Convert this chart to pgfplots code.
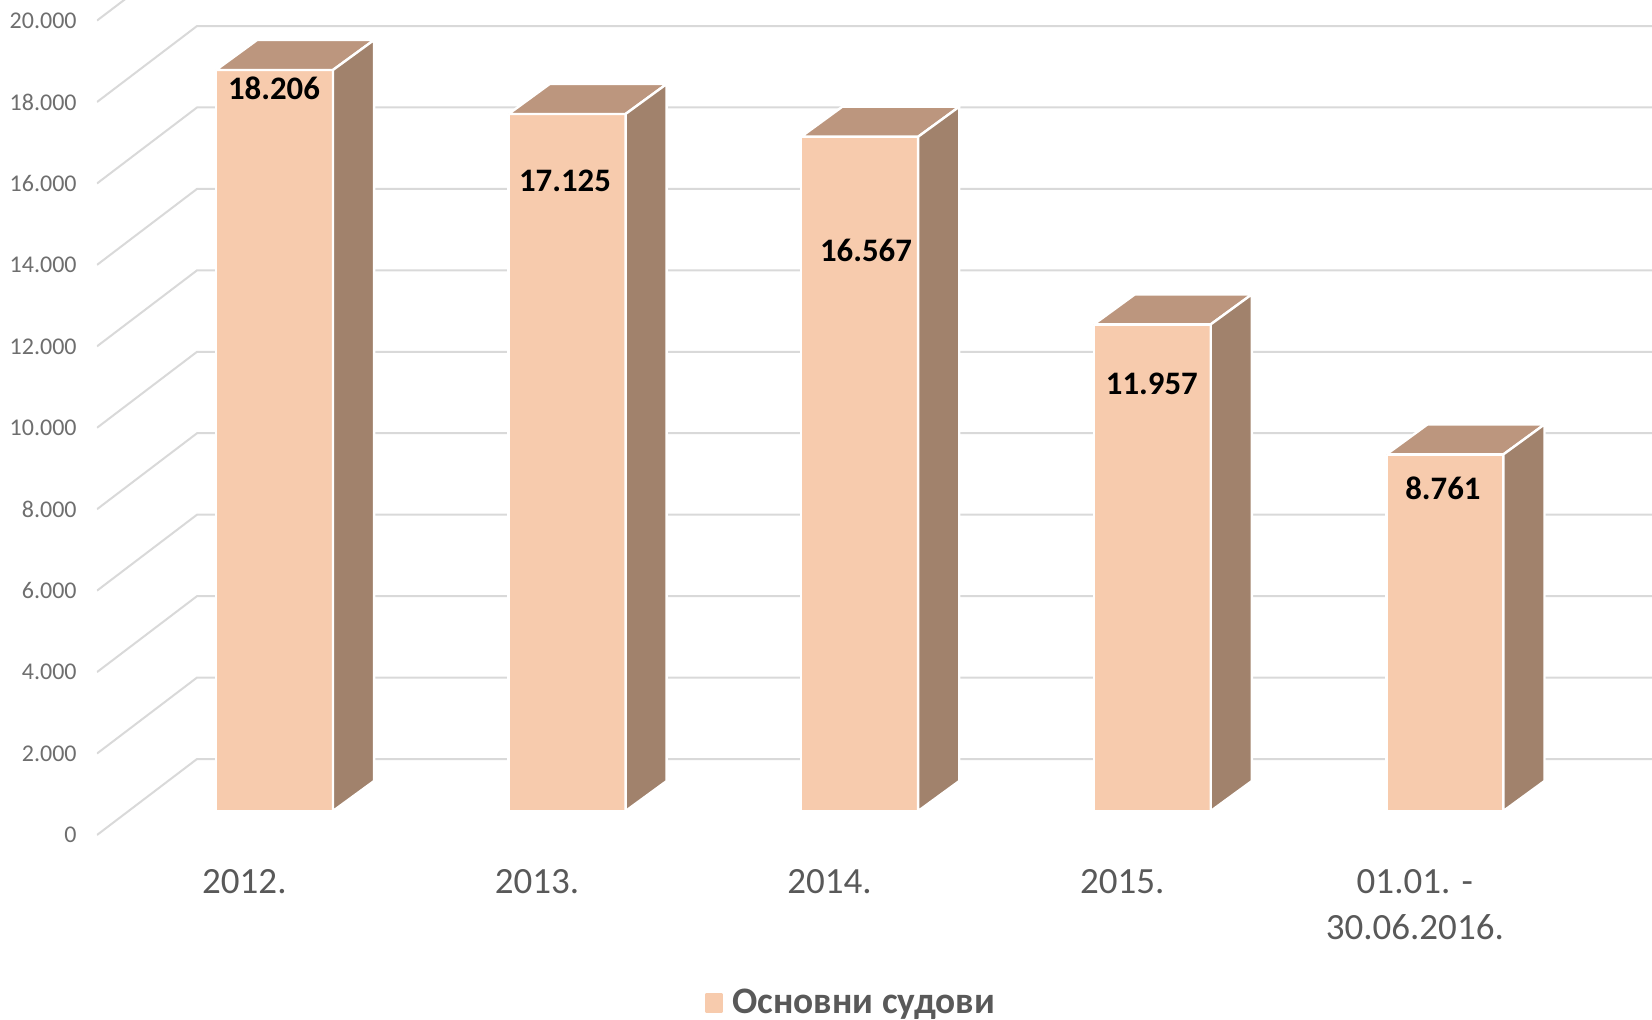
\documentclass[border=0pt]{standalone}
\usepackage{pgfplots}
\pgfplotsset{compat=1.18}
\usepackage{fontspec}
\setmainfont{Carlito}
\definecolor{front}{HTML}{F7CBAD}
\definecolor{side}{HTML}{A1826C}
\definecolor{topf}{HTML}{BC967E}
\definecolor{gridc}{HTML}{D9D9D9}
\definecolor{ticktxt}{HTML}{6E6E6E}
\definecolor{cattxt}{HTML}{595959}
\begin{document}
\begin{tikzpicture}
\path[use as bounding box] (0pt,0pt) rectangle (826pt,510pt);
% back wall, side wall and the value scale
\begin{axis}[
  at={(48.5pt,0pt)}, anchor=south west, scale only axis,
  width=777.5pt, height=510pt,
  xmin=97, xmax=1652, ymin=-4543, ymax=20506,
  axis line style={draw=none}, xtick=\empty, major tick length=0pt,
  ytick={0,2000,4000,6000,8000,10000,12000,14000,16000,18000,20000},
  scaled y ticks=false,
  yticklabel style={/pgf/number format/assume math mode=true,
     /pgf/number format/fixed, /pgf/number format/1000 sep={.},
     /pgf/number format/min exponent for 1000 sep=0,
     anchor=east, inner sep=0pt, xshift=-10pt, text=ticktxt,
     font=\fontsize{12}{14}\selectfont},
  clip=true,
]
\pgfplotsinvokeforeach{0,2000,4000,6000,8000,10000,12000,14000,16000,18000,20000}{
  \addplot[gridc, line width=1pt, forget plot] coordinates {(97,#1) (197,#1+1866) (1652,#1+1866)};
}
\end{axis}
% bars
\begin{axis}[
  at={(0pt,104.5pt)}, anchor=south west, scale only axis,
  width=826pt, height=405.5pt,
  xmin=-0.9364, xmax=4.7095, ymin=0, ymax=19926,
  axis line style={draw=none}, ytick=\empty, major tick length=0pt,
  xtick={0,1,2,3,4},
  xticklabels={2012.,2013.,2014.,2015.,{01.01. -\\30.06.2016.}},
  xticklabel style={anchor=north, align=center, inner sep=0pt, xshift=-14.8pt, yshift=-29pt,
     text=cattxt, font=\fontsize{18.5}{23}\selectfont},
  clip=false,
  legend style={at={(0.5157,-0.2369)}, anchor=center, draw=none, fill=none,
     font=\fontsize{18.7}{20}\bfseries\selectfont, text=cattxt, inner sep=0pt},
  legend cell align=left,
  legend image code/.code={\path (9pt,0pt); \fill[front] (-1.6pt,-4.25pt) rectangle (6.4pt,4.25pt);},
]
\addplot[ybar, bar width=59pt, bar shift=0.5pt, fill=front, draw=white, line width=1.2pt]
  coordinates {(0,18206) (1,17125) (2,16567) (3,11957) (4,8761)};
\addlegendentry{Основни судови}
\pgfplotsset{every axis plot/.append style={forget plot, draw=white, line width=1.2pt, line join=round}}
% top faces
\addplot[fill=topf] coordinates {(-0.1982,18206) (0.2015,18206) (0.342,18943) (-0.0577,18943) (-0.1982,18206)};
\addplot[fill=topf] coordinates {(0.8018,17125) (1.2015,17125) (1.342,17862) (0.9423,17862) (0.8018,17125)};
\addplot[fill=topf] coordinates {(1.8018,16567) (2.2015,16567) (2.342,17304) (1.9423,17304) (1.8018,16567)};
\addplot[fill=topf] coordinates {(2.8018,11957) (3.2015,11957) (3.342,12694) (2.9423,12694) (2.8018,11957)};
\addplot[fill=topf] coordinates {(3.8018,8761) (4.2015,8761) (4.342,9498) (3.9423,9498) (3.8018,8761)};
% side faces
\addplot[fill=side] coordinates {(0.2015,0) (0.342,737) (0.342,18943) (0.2015,18206) (0.2015,0)};
\addplot[fill=side] coordinates {(1.2015,0) (1.342,737) (1.342,17862) (1.2015,17125) (1.2015,0)};
\addplot[fill=side] coordinates {(2.2015,0) (2.342,737) (2.342,17304) (2.2015,16567) (2.2015,0)};
\addplot[fill=side] coordinates {(3.2015,0) (3.342,737) (3.342,12694) (3.2015,11957) (3.2015,0)};
\addplot[fill=side] coordinates {(4.2015,0) (4.342,737) (4.342,9498) (4.2015,8761) (4.2015,0)};
% data labels
\node[font=\fontsize{16.4}{18}\bfseries\selectfont] at (axis cs:0,17764) {18.206};
\node[font=\fontsize{16.4}{18}\bfseries\selectfont] at (axis cs:0.9945,15479) {17.125};
\node[font=\fontsize{16.4}{18}\bfseries\selectfont] at (axis cs:2.023,13784) {16.567};
\node[font=\fontsize{16.4}{18}\bfseries\selectfont] at (axis cs:3.0,10500) {11.957};
\node[font=\fontsize{16.4}{18}\bfseries\selectfont] at (axis cs:3.995,7936) {8.761};
\end{axis}
\end{tikzpicture}
\end{document}
